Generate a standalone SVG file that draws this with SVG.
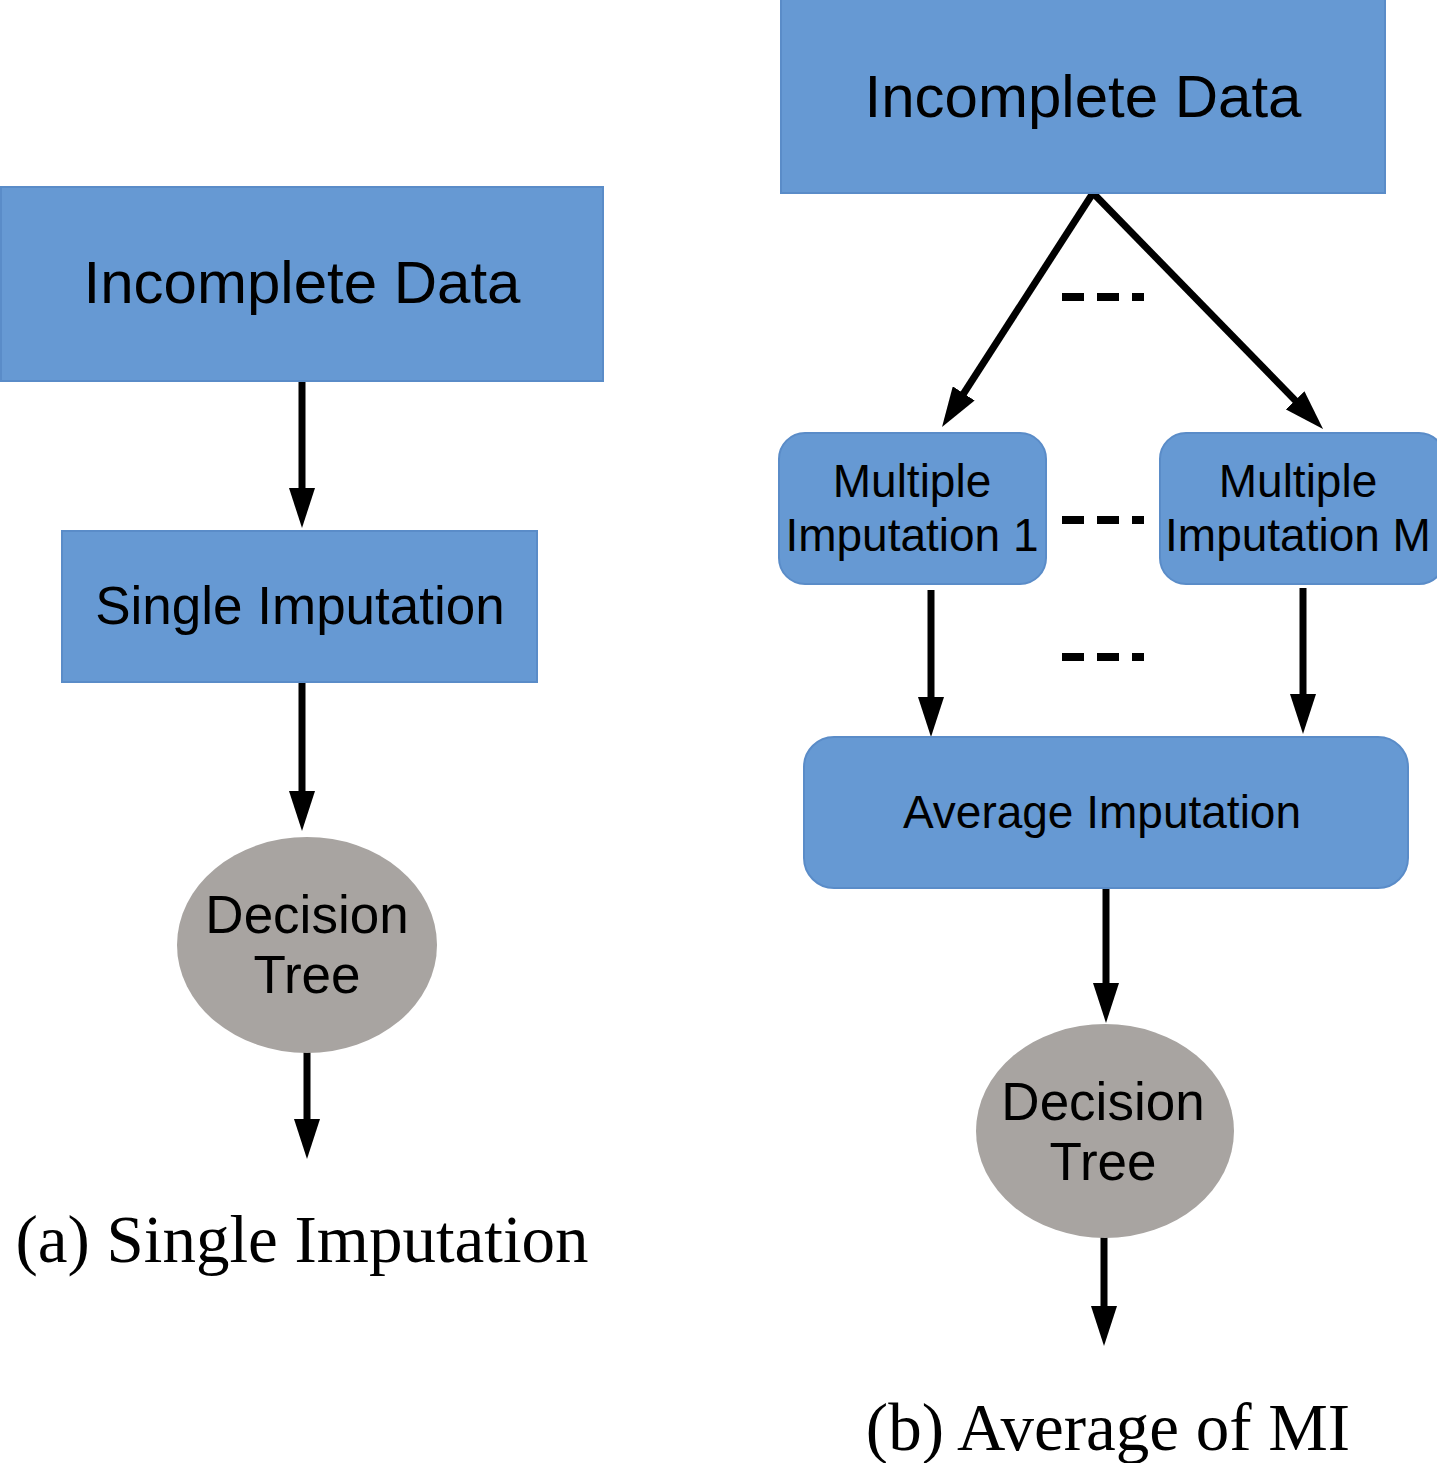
<svg xmlns="http://www.w3.org/2000/svg" width="1437" height="1463" viewBox="0 0 1437 1463">
<defs>
<style>
.box{fill:#6699d3;stroke:#5a8cc8;stroke-width:2}
.ell{fill:#a8a4a1}
.t{font-family:"Liberation Sans",Arial,sans-serif;fill:#000;text-anchor:middle}
.cap{font-family:"Liberation Serif","Times New Roman",serif;fill:#000;text-anchor:middle}
.ln{stroke:#000;stroke-width:7;fill:none}
.dash{stroke:#000;stroke-width:8;stroke-dasharray:22,13;fill:none}
</style>
<marker id="a" viewBox="0 0 40 26" refX="12" refY="13" markerWidth="40" markerHeight="26" orient="auto" markerUnits="userSpaceOnUse">
<path d="M0,0 L40,13 L0,26 Z" fill="#000"/>
</marker>
</defs>
<g id="connectors">
<line class="ln" x1="302" y1="381" x2="302" y2="500" marker-end="url(#a)"/>
<line class="ln" x1="302" y1="682" x2="302" y2="803" marker-end="url(#a)"/>
<line class="ln" x1="307" y1="1050" x2="307" y2="1131" marker-end="url(#a)"/>
<line class="ln" x1="1093" y1="193" x2="957.2" y2="403.5" marker-end="url(#a)"/>
<line class="ln" x1="1093" y1="193" x2="1303.5" y2="408.9" marker-end="url(#a)"/>
<line class="ln" x1="931" y1="590" x2="931" y2="709" marker-end="url(#a)"/>
<line class="ln" x1="1303" y1="588" x2="1303" y2="706" marker-end="url(#a)"/>
<line class="ln" x1="1106" y1="888" x2="1106" y2="995" marker-end="url(#a)"/>
<line class="ln" x1="1104" y1="1237" x2="1104" y2="1318" marker-end="url(#a)"/>
<line class="dash" x1="1062" y1="297" x2="1144" y2="297"/>
<line class="dash" x1="1062" y1="520" x2="1144" y2="520"/>
<line class="dash" x1="1062" y1="657" x2="1144" y2="657"/>
</g>
<g id="a_incomplete">
<rect class="box" x="1" y="187" width="602" height="194"/>
<text class="t" x="302" y="303" font-size="60">Incomplete Data</text>
</g>
<g id="a_single">
<rect class="box" x="62" y="531" width="475" height="151"/>
<text class="t" x="300" y="624" font-size="53">Single Imputation</text>
</g>
<g id="a_tree">
<ellipse class="ell" cx="307" cy="945" rx="130" ry="108"/>
<text class="t" x="307" y="933" font-size="53">Decision</text>
<text class="t" x="307" y="993" font-size="53">Tree</text>
</g>
<g id="a_caption">
<text class="cap" x="302" y="1262" font-size="67">(a) Single Imputation</text>
</g>
<g id="b_incomplete">
<rect class="box" x="781" y="-2" width="604" height="195"/>
<text class="t" x="1083" y="117" font-size="60">Incomplete Data</text>
</g>
<g id="b_mi1">
<rect class="box" x="779" y="433" width="267" height="151" rx="26"/>
<text class="t" x="912" y="497" font-size="46">Multiple</text>
<text class="t" x="912" y="551" font-size="46">Imputation 1</text>
</g>
<g id="b_miM">
<rect class="box" x="1160" y="433" width="285" height="151" rx="26"/>
<text class="t" x="1298" y="497" font-size="46">Multiple</text>
<text class="t" x="1298" y="551" font-size="46">Imputation M</text>
</g>
<g id="b_avg">
<rect class="box" x="804" y="737" width="604" height="151" rx="30"/>
<text class="t" x="1102" y="828" font-size="46">Average Imputation</text>
</g>
<g id="b_tree">
<ellipse class="ell" cx="1105" cy="1131" rx="129" ry="107"/>
<text class="t" x="1103" y="1120" font-size="53">Decision</text>
<text class="t" x="1103" y="1180" font-size="53">Tree</text>
</g>
<g id="b_caption">
<text class="cap" x="1108" y="1450" font-size="67">(b) Average of MI</text>
</g>
</svg>
